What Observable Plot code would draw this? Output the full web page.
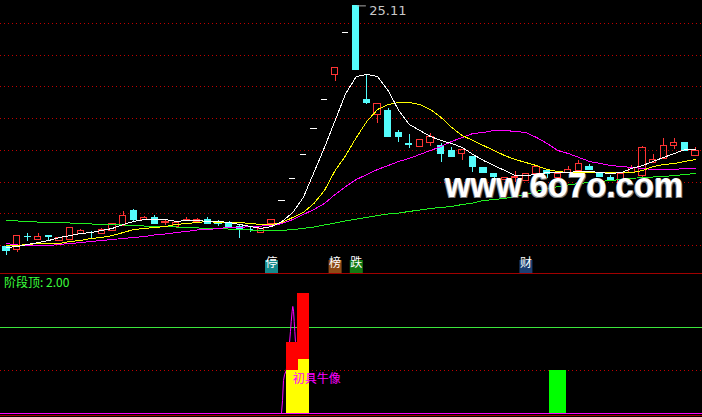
<!DOCTYPE html>
<html><head><meta charset="utf-8">
<script src="https://cdn.jsdelivr.net/npm/d3@7"></script>
<script src="https://cdn.jsdelivr.net/npm/@observablehq/plot@0.6"></script>
<style>
html,body{margin:0;padding:0;background:#000;}
#wrap{position:relative;width:702px;height:417px;overflow:hidden;background:#000;}
#wrap svg{display:block;}
.wm{position:absolute;left:445px;top:167px;font:bold 35px "Liberation Sans",Arial,sans-serif;color:#fff;line-height:35px;white-space:nowrap;transform:scaleX(0.94);transform-origin:0 0;text-shadow:1px 1px 0 #777,-1px 1px 0 #999;}
.title{position:absolute;left:4px;top:275px;font:12px "Noto Sans CJK SC",sans-serif;color:#3cff3c;line-height:14px;white-space:pre;}
</style></head>
<body><div id="wrap"></div>
<script>
// ---- data (prices) ----
const open = [9.89,9.70,10.58,10.39,10.64,10.27,10.39,10.77,10.83,10.71,
  10.93,11.27,12.16,11.59,11.72,11.46,11.18,11.53,11.49,11.62,
  11.43,11.42,11.17,11.02,10.83,11.34,12.82,14.22,15.73,17.39,
  19.19,20.77,23.41,25.11,19.19,18.25,18.46,17.13,16.40,16.25,
  16.50,16.31,15.94,15.75,15.56,14.87,14.55,14.11,14.24,14.05,
  14.49,14.68,14.24,14.61,14.68,14.93,14.55,14.24,13.98,14.61,
  14.42,15.24,15.48,16.27,16.48,15.64];
const high = [10.01,10.64,10.77,10.77,10.66,10.52,11.15,11.02,10.90,11.09,
  11.34,12.16,12.28,11.84,11.90,11.59,11.53,11.78,11.72,11.78,
  11.59,11.53,11.29,11.15,11.09,11.65,12.82,14.22,15.73,17.39,
  19.19,21.18,23.41,25.11,20.79,18.90,18.63,17.26,17.01,16.63,
  17.07,16.44,16.19,16.00,15.58,14.87,14.55,14.24,14.68,14.55,
  14.99,14.68,14.55,14.99,15.37,15.12,14.55,14.42,14.49,15.05,
  16.27,15.73,16.77,16.74,16.48,16.21];
const low = [9.38,9.57,10.27,10.33,10.27,10.27,10.39,10.77,10.47,10.71,
  10.93,11.27,11.53,11.59,11.34,11.27,11.15,11.53,11.46,11.34,
  11.21,11.21,10.44,10.81,10.80,11.34,12.82,14.22,15.73,17.39,
  19.19,20.37,23.41,21.06,18.88,17.67,16.88,16.50,16.13,16.25,
  16.25,15.24,15.62,15.37,14.61,14.61,14.11,14.09,13.98,14.05,
  14.49,14.24,13.98,14.61,14.68,14.74,14.36,14.05,13.98,14.61,
  14.30,15.24,15.41,16.04,15.96,15.64];
const close = [9.64,10.64,10.55,10.58,10.52,10.46,11.09,10.90,10.80,10.96,
  11.34,11.90,11.59,11.72,11.40,11.49,11.46,11.65,11.62,11.34,
  11.40,11.21,11.07,10.99,11.05,11.63,12.82,14.22,15.73,17.39,
  19.19,21.18,23.41,21.06,18.98,18.90,16.88,16.82,16.36,16.63,
  16.82,15.81,15.62,16.00,14.99,14.61,14.30,14.24,14.36,14.55,
  14.93,14.49,14.55,14.74,15.18,14.74,14.36,14.05,14.49,14.87,
  16.13,15.43,16.31,16.48,15.96,15.96];
const ma5 = [9.89,9.95,10.08,10.20,10.33,10.52,10.64,10.77,10.83,10.96,
  11.09,11.34,11.53,11.65,11.65,11.65,11.53,11.59,11.59,11.53,
  11.53,11.46,11.34,11.21,11.09,11.21,11.53,12.09,13.04,14.61,
  16.19,17.89,19.59,20.66,20.79,20.66,19.78,18.52,17.64,17.26,
  16.88,16.63,16.44,16.19,15.75,15.37,15.05,14.74,14.42,14.42,
  14.49,14.61,14.61,14.61,14.68,14.68,14.61,14.55,14.61,14.87,
  15.05,15.31,15.56,15.81,16.06,16.06];
const ma10 = [10.01,10.01,10.08,10.14,10.14,10.14,10.27,10.33,10.46,10.52,
  10.64,10.83,11.02,11.09,11.15,11.21,11.34,11.40,11.46,11.53,
  11.46,11.46,11.46,11.40,11.34,11.34,11.46,11.78,12.09,12.66,
  13.48,14.74,15.68,16.82,17.83,18.58,18.90,19.02,19.02,18.90,
  18.58,18.08,17.45,16.94,16.63,16.31,16.00,15.68,15.43,15.24,
  15.05,14.80,14.68,14.61,14.61,14.61,14.61,14.61,14.61,14.61,
  14.74,14.99,15.12,15.18,15.31,15.43];
const ma20 = [10.14,10.05,10.01,10.01,10.01,10.08,10.14,10.20,10.27,10.33,
  10.39,10.46,10.52,10.58,10.68,10.74,10.83,10.90,10.99,11.02,
  11.09,11.15,11.15,11.21,11.24,11.27,11.40,11.65,11.97,12.28,
  12.66,13.23,13.73,14.17,14.49,14.80,15.05,15.31,15.50,15.75,
  16.00,16.25,16.57,16.82,17.07,17.13,17.26,17.26,17.20,17.13,
  16.82,16.44,16.00,15.81,15.56,15.31,15.18,15.05,14.99,14.93,
  14.87,14.80,14.80,14.80,14.87,14.87];
const ma60 = [11.59,11.56,11.53,11.49,11.46,11.46,11.43,11.40,11.37,11.34,
  11.34,11.31,11.27,11.24,11.21,11.21,11.18,11.15,11.12,11.09,
  11.09,11.05,11.02,10.99,10.96,10.96,10.96,11.02,11.09,11.18,
  11.31,11.43,11.56,11.68,11.78,11.90,12.00,12.06,12.16,12.25,
  12.35,12.41,12.47,12.60,12.69,12.85,12.91,12.98,13.10,13.23,
  13.42,13.57,13.73,13.83,13.92,13.98,14.05,14.11,14.17,14.24,
  14.30,14.33,14.36,14.42,14.49,14.55];
const gridLevels = [24, 22, 20, 18, 16, 14, 12, 10];
const markerText = ["停", "榜", "跌", "财"];
const markerIdx = [25, 31, 33, 49];
const markerColor = ["#138a8c", "#8c4a16", "#137a13", "#1c3f72"];
// lower indicator panel
const stageTopLabel = "阶段顶";
const stageTop = 2.00;
const barIdx = [27, 28];
const barYellow = [1.00, 1.26];
const barRed = [1.65, 2.79];
const greenIdx = [52];
const greenVal = [1.00];
const spikeIdx = [25.94, 26.04, 26.13, 26.23, 26.39, 26.70, 26.79, 26.86, 26.95, 27.01, 27.08, 27.14, 27.20, 27.26, 27.36, 27.45];
const spikeVal = [0, 0.30, 0.77, 0.90, 1.00, 1.65, 1.91, 2.14, 2.38, 2.49, 2.38, 2.14, 1.91, 1.67, 1.65, 1.65];
const signalText = "初具牛像";
const signalIdx = 27;
const signalLevel = 0.80;

// ---- build ----
const RED = "#ff3434", CYAN = "#54fcfc";
const idx = d3.range(open.length);
const candles = idx.map(i => ({i, open: open[i], high: high[i], low: low[i], close: close[i]}));
const kind = d => d.high === d.low ? "flat" : (d.close >= d.open ? "up" : "down");
const up = candles.filter(d => kind(d) === "up");
const down = candles.filter(d => kind(d) === "down");
const flat = candles.filter(d => kind(d) === "flat");
const solid = candles.filter(d => kind(d) !== "flat");
const col = d => kind(d) === "up" ? RED : CYAN;
const topC = candles.reduce((a, b) => b.high > a.high ? b : a);
const markers = markerText.map((t, k) => ({t, i: markerIdx[k], c: markerColor[k]}));
const xdom = [-0.566, 65.66];
const W = 8.25, HW = 0.3;
const cjk = '"Noto Sans CJK SC", sans-serif';
const line = (arr, color) => Plot.line(idx, {x: d => d, y: i => arr[i], stroke: color, strokeWidth: 1, shapeRendering: "crispEdges"});

const main = Plot.plot({
  width: 702, height: 274, marginTop: 0, marginBottom: 1, marginLeft: 0, marginRight: 0,
  x: {type: "linear", domain: xdom, axis: null},
  y: {domain: [W, 25.449], axis: null},
  style: {background: "#000", color: "#fff"},
  marks: [
    Plot.ruleY(gridLevels, {stroke: "#c00000", strokeDasharray: "1,3", shapeRendering: "crispEdges"}),
    Plot.ruleY([W], {stroke: "#a00000", shapeRendering: "crispEdges"}),
    Plot.ruleX(solid, {x: "i", y1: d => Math.max(d.open, d.close), y2: "high", stroke: col, shapeRendering: "crispEdges"}),
    Plot.ruleX(solid, {x: "i", y1: "low", y2: d => Math.min(d.open, d.close), stroke: col, shapeRendering: "crispEdges"}),
    Plot.rect(up, {x1: d => d.i - HW, x2: d => d.i + HW, y1: "open", y2: "close", fill: "none", stroke: RED, shapeRendering: "crispEdges"}),
    Plot.rect(down, {x1: d => d.i - HW, x2: d => d.i + HW, y1: "open", y2: "close", fill: CYAN, stroke: CYAN, shapeRendering: "crispEdges"}),
    Plot.ruleY(flat, {y: "close", x1: d => d.i - HW, x2: d => d.i + HW, stroke: "#ffffff", shapeRendering: "crispEdges"}),
    line(ma60, "#20f020"),
    line(ma20, "#ff00ff"),
    line(ma10, "#ffff00"),
    line(ma5, "#ffffff"),
    Plot.ruleY([topC], {y: "high", x1: d => d.i + 0.12, x2: d => d.i + 0.95, stroke: "#a8a8a8"}),
    Plot.text([topC], {x: "i", y: "high", text: d => d.high.toFixed(2), dx: 13, dy: 5, textAnchor: "start", fill: "#c8c8c8", fontSize: 13, fontFamily: '"DejaVu Sans", sans-serif'}),
    Plot.dot(markers, {x: "i", frameAnchor: "bottom", dy: -7, symbol: "square", r: 7.35, fill: d => d.c, stroke: null}),
    Plot.text(markers, {x: "i", frameAnchor: "bottom", dy: -7, text: "t", fill: "#ffffff", fontSize: 12, fontFamily: cjk})
  ]
});

const bars = barIdx.map((i, k) => ({i, yv: barYellow[k], rv: barRed[k]}));
const greens = greenIdx.map((i, k) => ({i, v: greenVal[k]}));
const spike = spikeIdx.map((x, k) => ({x, v: spikeVal[k]}));
const lower = Plot.plot({
  width: 702, height: 143, marginTop: 0, marginBottom: 0, marginLeft: 0, marginRight: 0,
  x: {type: "linear", domain: xdom, axis: null},
  y: {domain: [-0.093, 3.233], axis: null},
  style: {background: "#000", color: "#fff"},
  marks: [
    Plot.ruleY([stageTop], {stroke: "#3ce63c", shapeRendering: "crispEdges"}),
    Plot.ruleY([1], {stroke: "#c00000", strokeDasharray: "1,3", shapeRendering: "crispEdges"}),
    Plot.line(spike, {x: "x", y: "v", stroke: "#ff00ff", strokeWidth: 1}),
    Plot.rect(bars, {x1: d => d.i - 0.55, x2: d => d.i + 0.55, y1: 0, y2: "yv", fill: "#ffff00", shapeRendering: "crispEdges"}),
    Plot.rect(bars, {x1: d => d.i - 0.55, x2: d => d.i + 0.55, y1: "yv", y2: "rv", fill: "#ff0000", shapeRendering: "crispEdges"}),
    Plot.rect(greens, {x1: d => d.i - 0.8, x2: d => d.i + 0.8, y1: 0, y2: "v", fill: "#00ff00", shapeRendering: "crispEdges"}),
    Plot.ruleY([0], {stroke: "#ff00ff", shapeRendering: "crispEdges"}),
    Plot.ruleY([-0.058], {stroke: "#a00000", shapeRendering: "crispEdges"}),
    Plot.text([{i: signalIdx, v: signalLevel, t: signalText}], {x: "i", y: "v", text: "t", textAnchor: "start", fill: "#ff00ff", fontSize: 12, fontFamily: cjk})
  ]
});

const wrap = document.getElementById("wrap");
wrap.appendChild(main);
wrap.appendChild(lower);
const wm = document.createElement("div");
wm.className = "wm"; wm.textContent = "www.6o7o.com";
wrap.appendChild(wm);
const tt = document.createElement("div");
tt.className = "title"; tt.textContent = stageTopLabel + ": " + stageTop.toFixed(2);
wrap.appendChild(tt);
</script></body></html>
